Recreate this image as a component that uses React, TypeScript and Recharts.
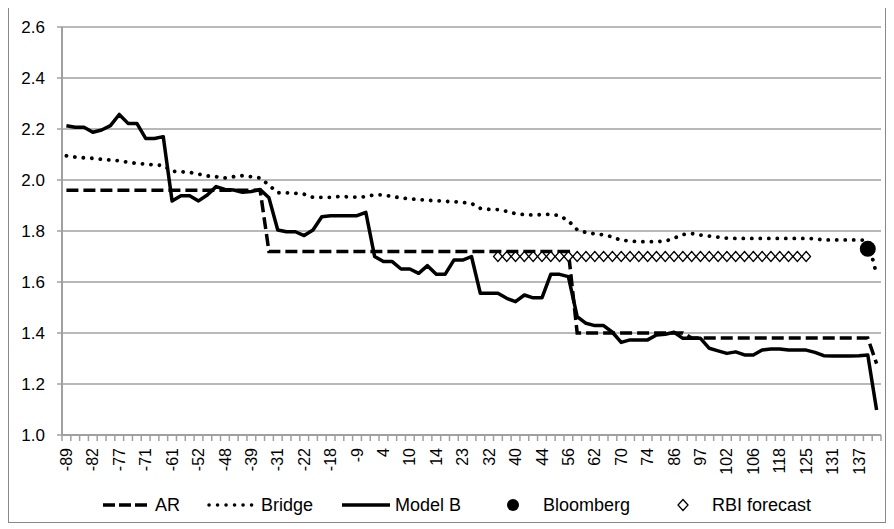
import React from "react";
import { ComposedChart, Line, XAxis, YAxis, CartesianGrid, Legend } from "recharts";

const tickLabels = ["-89","-82","-77","-71","-61","-52","-48","-39","-31","-22","-18","-9","4","10","14","23","32","40","44","56","62","70","74","86","97","102","106","118","125","131","137"];

const arValues = [
  1.96,1.96,1.96,1.96,1.96,1.96,1.96,1.96,1.96,1.96,1.96,1.96,1.96,1.96,1.96,1.96,1.96,1.96,1.96,1.96,1.96,1.96,1.96,
  1.72,1.72,1.72,1.72,1.72,1.72,1.72,1.72,1.72,1.72,1.72,1.72,1.72,1.72,1.72,1.72,1.72,1.72,1.72,1.72,1.72,1.72,1.72,1.72,1.72,1.72,1.72,1.72,1.72,1.72,1.72,1.72,1.72,1.72,1.72,
  1.40,1.40,1.40,1.40,1.40,1.40,1.40,1.40,1.40,1.40,1.40,1.40,1.40,
  1.38,1.38,1.38,1.38,1.38,1.38,1.38,1.38,1.38,1.38,1.38,1.38,1.38,1.38,1.38,1.38,1.38,1.38,1.38,1.38,1.38,
  1.28
];

const bridgeValues = [
  2.095,2.090,2.087,2.085,2.081,2.078,2.075,2.070,2.065,2.062,2.059,2.057,
  2.034,2.032,2.030,2.023,2.016,2.013,2.008,2.013,2.017,2.013,2.008,
  1.980,1.950,1.950,1.948,1.944,1.932,1.932,1.932,1.935,1.934,1.932,1.935,1.942,1.942,1.935,1.930,1.926,1.923,1.920,1.919,1.916,1.915,1.912,1.908,
  1.889,1.885,1.884,1.877,1.868,1.864,1.863,1.864,1.866,1.860,1.840,1.805,1.794,1.789,1.785,1.777,1.763,1.761,1.758,1.758,1.758,1.760,1.772,1.786,1.790,1.784,1.780,1.776,1.772,
  1.771,1.771,1.771,1.771,1.771,1.771,1.771,1.771,1.771,1.769,
  1.765,1.765,1.765,1.765,1.765,1.763,1.630
];

const modelBValues = [
  2.213,2.207,2.207,2.187,2.196,2.213,2.257,2.222,2.222,2.163,2.163,2.170,
  1.918,1.938,1.938,1.918,1.941,1.974,1.963,1.961,1.952,1.955,1.963,1.930,
  1.804,1.797,1.797,1.782,1.804,1.856,1.860,1.860,1.860,1.860,1.873,
  1.700,1.680,1.680,1.651,1.651,1.634,1.664,1.630,1.630,1.686,1.686,1.700,
  1.556,1.556,1.556,1.536,1.523,1.549,1.538,1.538,1.630,1.630,1.621,
  1.464,1.438,1.429,1.429,1.403,1.363,1.373,1.373,1.373,1.392,1.395,1.403,
  1.379,1.379,1.379,1.340,1.330,1.320,1.326,1.314,1.314,1.333,1.337,1.337,1.333,1.333,1.333,
  1.324,1.311,1.310,1.310,1.310,1.311,1.314,1.098
];

const bloombergValues: (number | null)[] = [...Array(91).fill(null), 1.73, null];

const rbiValues: (number | null)[] = [
  ...Array(49).fill(null),
  1.70,1.70,1.70,1.70,1.70,1.70,1.70,1.70,1.70,1.70,1.70,1.70,
  1.70,1.70,1.70,1.70,1.70,1.70,1.70,1.70,1.70,1.70,1.70,1.70,
  1.70,1.70,1.70,1.70,1.70,1.70,1.70,1.70,1.70,1.70,1.70,1.70,
  ...Array(8).fill(null)
];

const yTicks = [1.0, 1.2, 1.4, 1.6, 1.8, 2.0, 2.2, 2.4, 2.6];

const FONT = "'Liberation Sans', Arial, sans-serif";
const CHART_W = 876;
const CHART_H = 515;
const MARGIN = { top: 20, right: 4, bottom: 0, left: 0 };
const Y_AXIS_W = 53;
const BAND = (CHART_W - MARGIN.left - MARGIN.right - Y_AXIS_W) / modelBValues.length;
const GRID = "#A0A0A0";

const data = modelBValues.map((v, i) => ({
  idx: i,
  label: i % 3 === 0 ? tickLabels[i / 3] : "",
  ar: arValues[i],
  bridge: bridgeValues[i],
  modelB: v,
  bloomberg: bloombergValues[i],
  rbi: rbiValues[i],
}));

const XTick = (props: any) => {
  const { x, y, payload } = props;
  const i = payload.value as number;
  const label = data[i] ? data[i].label : "";
  const ty = y + 13;
  return (
    <g>
      <line x1={x - BAND / 2} x2={x - BAND / 2} y1={y} y2={y + 6} stroke={GRID} strokeWidth={1.5} />
      {i === data.length - 1 && (
        <line x1={x + BAND / 2} x2={x + BAND / 2} y1={y} y2={y + 6} stroke={GRID} strokeWidth={1.5} />
      )}
      {label ? (
        <text
          x={x}
          y={ty}
          transform={`rotate(-90, ${x}, ${ty})`}
          textAnchor="end"
          dy="0.35em"
          fontSize={16}
          fontFamily={FONT}
          fill="#000"
        >
          {label}
        </text>
      ) : null}
    </g>
  );
};

const Diamond = (props: any) => {
  const { cx, cy, value, index } = props;
  if (value == null || cx == null || cy == null) return <g key={`d-${index}`} />;
  const w = 4.4, h = 5;
  return (
    <polygon
      key={`d-${index}`}
      points={`${cx},${cy - h} ${cx + w},${cy} ${cx},${cy + h} ${cx - w},${cy}`}
      fill="#fff"
      stroke="#000"
      strokeWidth={1.3}
    />
  );
};

const BigDot = (props: any) => {
  const { cx, cy, value, index } = props;
  if (value == null || cx == null || cy == null) return <g key={`b-${index}`} />;
  return <circle key={`b-${index}`} cx={cx} cy={cy} r={8} fill="#000" />;
};

const LegendContent = () => {
  const cy = 17;
  const ts = { fontSize: 18, fontFamily: FONT, fill: "#000" } as any;
  return (
    <svg width={CHART_W} height={34} style={{ display: "block" }}>
      <line x1={94} x2={138} y1={cy} y2={cy} stroke="#000" strokeWidth={3.5} strokeDasharray="12 4" />
      <text x={146} y={cy} dy="0.35em" {...ts}>AR</text>
      <line x1={200} x2={244} y1={cy} y2={cy} stroke="#000" strokeWidth={3.5} strokeDasharray="0.1 8.4" strokeLinecap="round" />
      <text x={252} y={cy} dy="0.35em" {...ts}>Bridge</text>
      <line x1={333} x2={381} y1={cy} y2={cy} stroke="#000" strokeWidth={3.5} />
      <text x={386} y={cy} dy="0.35em" {...ts}>Model B</text>
      <circle cx={504} cy={cy} r={6} fill="#000" />
      <text x={534} y={cy} dy="0.35em" {...ts}>Bloomberg</text>
      <polygon points={`674,${cy - 5.5} 679,${cy} 674,${cy + 5.5} 669,${cy}`} fill="#fff" stroke="#000" strokeWidth={1.3} />
      <text x={703} y={cy} dy="0.35em" {...ts}>RBI forecast</text>
    </svg>
  );
};

export default function App() {
  return (
    <div
      style={{
        position: "relative",
        width: 878,
        height: 517,
        border: "1px solid #888",
        boxSizing: "border-box",
        marginTop: -2,
        background: "#fff",
        fontFamily: FONT,
      }}
    >
      <ComposedChart width={CHART_W} height={CHART_H} data={data} margin={MARGIN}>
        <CartesianGrid vertical={false} stroke={GRID} strokeWidth={1.5} />
        <XAxis
          dataKey="idx"
          type="category"
          scale="band"
          interval={0}
          height={53}
          tickLine={false}
          tickSize={0}
          tickMargin={0}
          axisLine={{ stroke: GRID, strokeWidth: 2 }}
          tick={<XTick />}
        />
        <YAxis
          width={Y_AXIS_W}
          domain={[1.0, 2.6]}
          ticks={yTicks}
          tickFormatter={(v: number) => v.toFixed(1)}
          tickSize={5}
          tickMargin={12}
          tickLine={{ stroke: GRID, strokeWidth: 1.5 }}
          axisLine={{ stroke: GRID, strokeWidth: 2 }}
          tick={{ fontSize: 17, fill: "#000", fontFamily: FONT }}
          allowDataOverflow
        />
        <Legend verticalAlign="bottom" height={34} content={<LegendContent />} />
        <Line
          dataKey="rbi"
          name="RBI forecast"
          stroke="none"
          dot={<Diamond />}
          activeDot={false}
          isAnimationActive={false}
          connectNulls={false}
        />
        <Line
          dataKey="ar"
          name="AR"
          stroke="#000"
          strokeWidth={3.5}
          strokeDasharray="12 5"
          dot={false}
          activeDot={false}
          isAnimationActive={false}
        />
        <Line
          dataKey="bridge"
          name="Bridge"
          stroke="#000"
          strokeWidth={3.8}
          strokeDasharray="0.1 8.4"
          strokeLinecap="round"
          dot={false}
          activeDot={false}
          isAnimationActive={false}
        />
        <Line
          dataKey="modelB"
          name="Model B"
          stroke="#000"
          strokeWidth={3.5}
          strokeLinejoin="round"
          dot={false}
          activeDot={false}
          isAnimationActive={false}
        />
        <Line
          dataKey="bloomberg"
          name="Bloomberg"
          stroke="none"
          dot={<BigDot />}
          activeDot={false}
          isAnimationActive={false}
        />
      </ComposedChart>
    </div>
  );
}
